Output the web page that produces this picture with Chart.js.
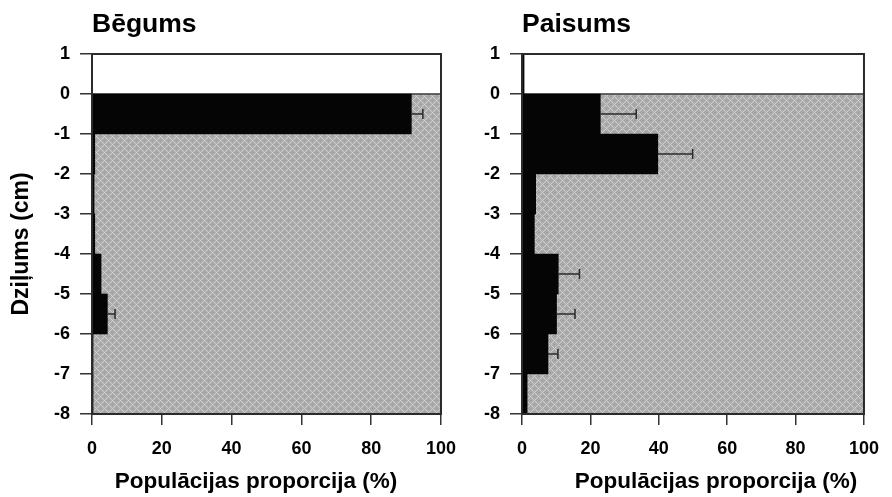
<!DOCTYPE html>
<html>
<head>
<meta charset="utf-8">
<script src="https://cdn.jsdelivr.net/npm/chart.js@4.4.1/dist/chart.umd.min.js"></script>
<style>
  html, body { margin: 0; padding: 0; background: #ffffff; }
  #wrap { position: relative; width: 892px; height: 497px; overflow: hidden; }
  #begums { position: absolute; left: 0; top: 0; }
  #paisums { position: absolute; left: 470px; top: 0; }
</style>
</head>
<body>
<div id="wrap">
  <canvas id="begums" width="470" height="497"></canvas>
  <canvas id="paisums" width="422" height="497"></canvas>
</div>
<script>
// Depth layers (centre of each 1 cm slice), cm
const depthMid = [0.5, -0.5, -1.5, -2.5, -3.5, -4.5, -5.5, -6.5, -7.5];
// Axis tick labels
const depthTicks = ['1', '0', '-1', '-2', '-3', '-4', '-5', '-6', '-7', '-8'];
const pctTicks = ['0', '20', '40', '60', '80', '100'];
// Share of the population in each layer, % (ebb)
const begumsPct = [0, 91.5, 0.8, 0.6, 0.8, 2.6, 4.4, 0.3, 0.3];
const begumsErr = [null, 3.3, null, null, null, null, 2.2, null, null];
// Share of the population in each layer, % (flood)
const paisumsPct = [0.6, 22.9, 39.7, 4.0, 3.6, 10.6, 10.1, 7.6, 1.5];
const paisumsErr = [null, 10.5, 10.2, null, null, 6.2, 5.4, 2.9, null];

const FONT = '"Liberation Sans", Arial, Helvetica, sans-serif';

// Stippled sediment fill
function sedimentPattern(ctx) {
  const t = document.createElement('canvas');
  t.width = 8; t.height = 8;
  const g = t.getContext('2d');
  g.fillStyle = '#aaaaaa';
  g.fillRect(0, 0, 8, 8);
  g.fillStyle = '#d0d0d0';
  for (let i = 0; i < 8; i++) {
    g.fillRect(i, i, 1, 1);
    g.fillRect(i, (8 - i) % 8, 1, 1);
  }
  g.fillStyle = '#989898';
  g.fillRect(4, 0, 1, 1);
  g.fillRect(0, 4, 1, 1);
  return ctx.createPattern(t, 'repeat');
}

const panelPlugin = {
  id: 'panel',
  beforeDatasetsDraw(chart, args, opts) {
    const { ctx, scales: { x, y } } = chart;
    const top = y.getPixelForValue(0), bot = y.getPixelForValue(-8);
    const l = x.getPixelForValue(0), r = x.getPixelForValue(100);
    ctx.save();
    ctx.fillStyle = sedimentPattern(ctx);
    ctx.fillRect(l, top, r - l, bot - top);
    ctx.strokeStyle = '#3a3a3a';
    ctx.lineWidth = 1.5;
    ctx.beginPath();
    ctx.moveTo(l, top); ctx.lineTo(r, top);
    ctx.stroke();
    ctx.restore();
  },
  afterDatasetsDraw(chart, args, opts) {
    const { ctx, chartArea: a, scales: { x, y } } = chart;
    const pts = chart.data.datasets[0].data;
    ctx.save();
    // error bars (+1 SE)
    ctx.strokeStyle = '#2a2a2a';
    ctx.lineWidth = 1.5;
    pts.forEach((p, i) => {
      const e = opts.errors[i];
      if (e == null) return;
      const x0 = x.getPixelForValue(p.x);
      const x1 = x.getPixelForValue(p.x + e);
      const yy = y.getPixelForValue(p.y);
      ctx.beginPath();
      ctx.moveTo(x0, yy); ctx.lineTo(x1, yy);
      ctx.moveTo(x1, yy - 5); ctx.lineTo(x1, yy + 5);
      ctx.stroke();
    });
    // plot frame
    ctx.strokeStyle = '#2b2b2b';
    ctx.lineWidth = 2;
    ctx.strokeRect(a.left, a.top, a.right - a.left, a.bottom - a.top);
    // panel heading
    ctx.fillStyle = '#000';
    ctx.textAlign = 'left';
    ctx.textBaseline = 'alphabetic';
    ctx.font = 'bold 26.5px ' + FONT;
    ctx.fillText(opts.title, a.left, 32);
    // x axis title
    ctx.font = 'bold 22.5px ' + FONT;
    ctx.textAlign = 'center';
    ctx.fillText(opts.xTitle, opts.xTitleX, 488);
    // y axis title
    if (opts.yTitle) {
      ctx.font = 'bold 23px ' + FONT;
      ctx.translate(opts.yTitleX, 244);
      ctx.rotate(-Math.PI / 2);
      ctx.textBaseline = 'middle';
      ctx.fillText(opts.yTitle, 0, 0);
    }
    ctx.restore();
  }
};

function makeChart(id, pct, err, cfg) {
  return new Chart(document.getElementById(id), {
    type: 'bar',
    data: {
      datasets: [{
        data: depthMid.map((d, i) => ({ y: d, x: pct[i] })),
        backgroundColor: '#050505',
        borderWidth: 0,
        barPercentage: 1,
        categoryPercentage: 1
      }]
    },
    options: {
      indexAxis: 'y',
      responsive: false,
      animation: false,
      devicePixelRatio: 1,
      layout: { padding: { top: 54, right: cfg.padRight, left: 0, bottom: 0 } },
      plugins: {
        legend: { display: false },
        tooltip: { enabled: false },
        panel: {
          title: cfg.title, errors: err,
          xTitle: 'Populācijas proporcija (%)', xTitleX: cfg.xTitleX,
          yTitle: cfg.yTitle, yTitleX: 22
        }
      },
      scales: {
        x: {
          type: 'linear', min: 0, max: 100,
          afterFit: s => { s.height = 83; },
          ticks: {
            stepSize: 20, padding: 13, color: '#000',
            font: { family: FONT, size: 18, weight: 'bold' },
            callback: (v, i) => pctTicks[i]
          },
          grid: { drawOnChartArea: false, drawTicks: true, tickLength: 11, color: '#333', lineWidth: 1.5 },
          border: { display: true, color: '#2b2b2b', width: 2 }
        },
        y: {
          type: 'linear', min: -8, max: 1, offset: false,
          afterFit: s => { s.width = cfg.yWidth; },
          ticks: {
            stepSize: 1, padding: 10, color: '#000',
            font: { family: FONT, size: 18, weight: 'bold' },
            callback: (v, i, ticks) => depthTicks[ticks.length - 1 - i]
          },
          grid: { offset: false, drawOnChartArea: false, drawTicks: true, tickLength: 12, color: '#333', lineWidth: 1.5 },
          border: { display: true, color: '#2b2b2b', width: 2 }
        }
      }
    },
    plugins: [panelPlugin]
  });
}

makeChart('begums', begumsPct, begumsErr, {
  title: 'Bēgums', yTitle: 'Dziļums (cm)', yWidth: 92, padRight: 29, xTitleX: 256
});
makeChart('paisums', paisumsPct, paisumsErr, {
  title: 'Paisums', yTitle: null, yWidth: 52, padRight: 19, xTitleX: 246
});
</script>
</body>
</html>
